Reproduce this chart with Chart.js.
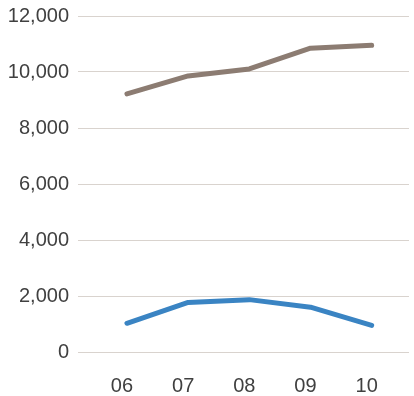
<!DOCTYPE html>
<html>
<head>
<meta charset="utf-8">
<script src="https://cdn.jsdelivr.net/npm/chart.js@4.4.1/dist/chart.umd.min.js"></script>
<style>
  html, body { margin: 0; padding: 0; background: #ffffff; }
  #wrap { width: 414px; height: 396px; position: relative; }
</style>
</head>
<body>
<div id="wrap"><canvas id="chart" width="414" height="396"></canvas></div>
<script>
// Years along the horizontal axis
const years = ['06', '07', '08', '09', '10'];
// Upper series (brown)
const upperSeries = [9220, 9860, 10110, 10850, 10955];
// Lower series (blue)
const lowerSeries = [1025, 1770, 1870, 1600, 950];
// Vertical axis range and step
const yMin = 0;
const yMax = 12000;
const yStep = 2000;

const toPoints = arr => arr.map((v, i) => ({ x: i, y: v }));

const ctx = document.getElementById('chart').getContext('2d');
new Chart(ctx, {
  type: 'line',
  data: {
    datasets: [
      {
        label: 'upper',
        data: toPoints(upperSeries),
        borderColor: '#8c7c72',
        borderWidth: 5,
        borderCapStyle: 'round',
        borderJoinStyle: 'round',
        pointRadius: 0,
        tension: 0,
        fill: false
      },
      {
        label: 'lower',
        data: toPoints(lowerSeries),
        borderColor: '#3a84c3',
        borderWidth: 5,
        borderCapStyle: 'round',
        borderJoinStyle: 'round',
        pointRadius: 0,
        tension: 0,
        fill: false
      }
    ]
  },
  options: {
    responsive: false,
    animation: false,
    devicePixelRatio: 1,
    layout: { padding: { top: 16, right: 5, left: 0, bottom: 0 } },
    plugins: { legend: { display: false }, tooltip: { enabled: false } },
    scales: {
      x: {
        type: 'linear',
        min: -0.80,
        max: 4.61,
        grid: { display: false, drawTicks: false },
        border: { display: false },
        afterBuildTicks: scale => { scale.ticks = years.map((_, i) => ({ value: i })); },
        afterFit: scale => {
          scale.height = 44;
          scale.paddingLeft = 0;
          scale.paddingRight = 0;
        },
        ticks: {
          padding: 22,
          labelOffset: -5,
          color: '#404040',
          font: { family: 'Liberation Sans, Arial, sans-serif', size: 20 },
          callback: v => years[v]
        }
      },
      y: {
        min: yMin,
        max: yMax,
        grid: { color: '#d9d3ce', lineWidth: 1, drawTicks: false },
        border: { display: false },
        afterFit: scale => {
          scale.width = 78;
          scale.paddingTop = 0;
          scale.paddingBottom = 0;
        },
        ticks: {
          stepSize: yStep,
          padding: 9,
          color: '#404040',
          font: { family: 'Liberation Sans, Arial, sans-serif', size: 20 },
          callback: v => v.toLocaleString('en-US')
        }
      }
    }
  }
});
</script>
</body>
</html>
